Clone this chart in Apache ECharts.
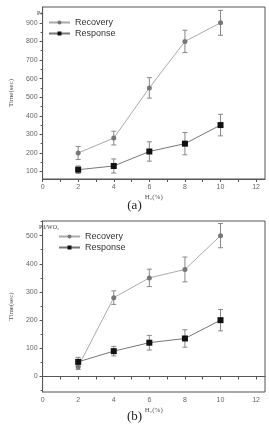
<!DOCTYPE html>
<html>
<head>
<meta charset="utf-8">
<script src="https://cdn.jsdelivr.net/npm/echarts@6/dist/echarts.min.js"></script>
<style>
  html, body { margin: 0; padding: 0; background: #fff; }
  #chart { width: 269px; height: 426px; }
</style>
</head>
<body>
<div id="chart"></div>
<script>
// H2 concentration (%)
const xValues = [2, 4, 6, 8, 10];

// (a) Pd
const recoveryPd = [200, 280, 550, 800, 900];
const recoveryPdErr = [35, 37, 55, 60, 67];
const responsePd = [110, 130, 208, 250, 350];
const responsePdErr = [20, 38, 52, 60, 58];

// (b) Pd/WO3
const recoveryWO3 = [35, 280, 350, 380, 500];
const recoveryWO3Err = [10, 24, 31, 44, 43];
const responseWO3 = [52, 90, 120, 135, 200];
const responseWO3Err = [16, 17, 26, 31, 38];

const xLabels = [0, 2, 4, 6, 8, 10, 12];
const xTicks = [0, 1, 2, 3, 4, 5, 6, 7, 8, 9, 10, 11, 12];
const yLabelsPd = [100, 200, 300, 400, 500, 600, 700, 800, 900];
const yMinorPd = [150, 250, 350, 450, 550, 650, 750, 850, 950];
const yLabelsWO3 = [0, 100, 200, 300, 400, 500];
const yMinorWO3 = [-50, 50, 150, 250, 350, 450, 550];

const chart = echarts.init(document.getElementById('chart'));

const tickFont = { fontFamily: 'Liberation Sans', fontSize: 7, color: '#666' };
const nameFont = { fontFamily: 'Liberation Serif', fontSize: 7, color: '#555' };

function xAxis(grid) {
    return {
        type: 'value', gridIndex: grid, min: 0, max: 12.5,
        name: 'H₂(%)', nameLocation: 'middle', nameGap: 15, nameTextStyle: nameFont,
        axisLine: { lineStyle: { color: '#555' } },
        axisTick: { customValues: xTicks, length: 3, lineStyle: { color: '#555' } },
        axisLabel: { customValues: xLabels, margin: 5, ...tickFont },
        splitLine: { show: false }
    };
}

function yAxis(grid, min, max, labels) {
    return {
        type: 'value', gridIndex: grid, min: min, max: max,
        name: 'Time(sec)', nameLocation: 'middle', nameGap: 24, nameTextStyle: nameFont,
        axisLine: { show: true, lineStyle: { color: '#555' } },
        axisTick: { customValues: labels, length: 3, lineStyle: { color: '#555' } },
        axisLabel: { customValues: labels, margin: 5, ...tickFont },
        splitLine: { show: false }
    };
}

function minorAxis(grid, min, max, ticks) {
    return {
        type: 'value', gridIndex: grid, min: min, max: max, position: 'left',
        axisLine: { show: false },
        axisTick: { customValues: ticks, length: 2, lineStyle: { color: '#555' } },
        axisLabel: { show: false },
        splitLine: { show: false }
    };
}

function lineSeries(name, axis, vals, symbol, size, markColor, lineColor) {
    return {
        name: name, type: 'line', xAxisIndex: axis, yAxisIndex: axis,
        data: xValues.map((x, i) => [x, vals[i]]),
        symbol: symbol, symbolSize: size, z: 3,
        itemStyle: { color: markColor },
        lineStyle: { color: lineColor, width: 1 }
    };
}

function errorSeries(axis, vals, errs) {
    return {
        type: 'custom', xAxisIndex: axis, yAxisIndex: axis, z: 2, silent: true,
        encode: { x: 0, y: [1, 2] },
        data: xValues.map((x, i) => [x, vals[i] - errs[i], vals[i] + errs[i]]),
        renderItem: function (params, api) {
            const lo = api.coord([api.value(0), api.value(1)]);
            const hi = api.coord([api.value(0), api.value(2)]);
            const w = 2.5;
            const st = { stroke: '#888', lineWidth: 1 };
            return {
                type: 'group',
                children: [
                    { type: 'line', shape: { x1: lo[0], y1: lo[1], x2: hi[0], y2: hi[1] }, style: st },
                    { type: 'line', shape: { x1: lo[0] - w, y1: lo[1], x2: lo[0] + w, y2: lo[1] }, style: st },
                    { type: 'line', shape: { x1: hi[0] - w, y1: hi[1], x2: hi[0] + w, y2: hi[1] }, style: st }
                ]
            };
        }
    };
}

const legendText = { fontFamily: 'Liberation Sans', fontSize: 9, color: '#333' };

chart.setOption({
    animation: false,
    grid: [
        { left: 34, top: 7, width: 231, height: 172, show: true, borderColor: '#555', borderWidth: 1 },
        { left: 34, top: 221, width: 231, height: 171, show: true, borderColor: '#555', borderWidth: 1 }
    ],
    legend: [
        { data: ['Recovery', 'Response'], orient: 'vertical', left: 48, top: 18, itemGap: 2, padding: 0,
          itemWidth: 21, itemHeight: 5, textStyle: legendText },
        { data: ['Recovery', 'Response'], orient: 'vertical', left: 58, top: 232, itemGap: 2, padding: 0,
          itemWidth: 21, itemHeight: 5, textStyle: legendText }
    ],
    xAxis: [xAxis(0), xAxis(1)],
    yAxis: [
        yAxis(0, 60, 985, yLabelsPd),
        yAxis(1, -55, 552, yLabelsWO3),
        minorAxis(0, 60, 985, yMinorPd),
        minorAxis(1, -55, 552, yMinorWO3)
    ],
    graphic: [
        { type: 'text', left: 37, top: 10, style: { text: 'Pd', font: '6px Liberation Serif', fill: '#444' } },
        { type: 'text', left: 39, top: 224, style: { text: 'Pd/WO₃', font: '6px Liberation Serif', fill: '#444' } },
        { type: 'text', left: 'center', top: 199, style: { text: '(a)', font: '13px Liberation Serif', fill: '#222' } },
        { type: 'text', left: 'center', top: 410, style: { text: '(b)', font: '13px Liberation Serif', fill: '#222' } }
    ],
    series: [
        errorSeries(0, recoveryPd, recoveryPdErr),
        errorSeries(0, responsePd, responsePdErr),
        lineSeries('Recovery', 0, recoveryPd, 'circle', 5, '#777', '#aaa'),
        lineSeries('Response', 0, responsePd, 'rect', 6, '#111', '#777'),
        errorSeries(1, recoveryWO3, recoveryWO3Err),
        errorSeries(1, responseWO3, responseWO3Err),
        lineSeries('Recovery', 1, recoveryWO3, 'circle', 5, '#777', '#aaa'),
        lineSeries('Response', 1, responseWO3, 'rect', 6, '#111', '#777')
    ]
});
</script>
</body>
</html>
